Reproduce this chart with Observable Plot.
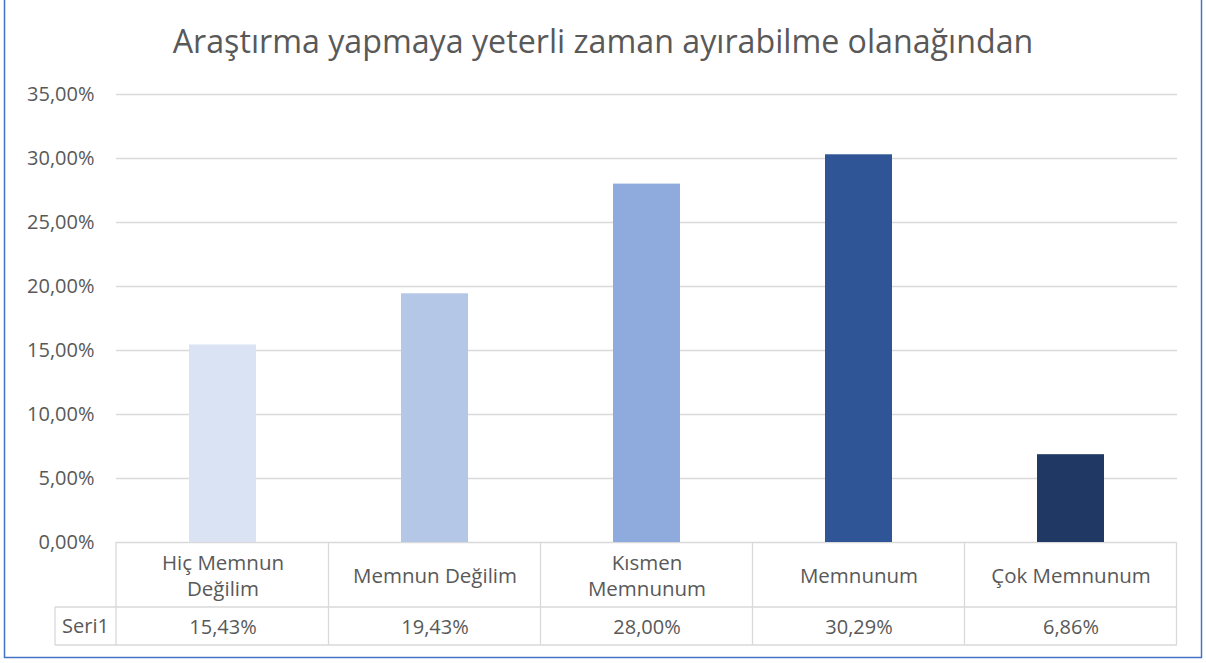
<!DOCTYPE html>
<html><head><meta charset="utf-8">
<script src="https://cdn.jsdelivr.net/npm/d3@7"></script>
<script src="https://cdn.jsdelivr.net/npm/@observablehq/plot@0.6"></script>
<style>body{margin:0;background:#fff;} svg{display:block;}</style>
</head><body><div id="chart"></div>
<script>
const title = "Araştırma yapmaya yeterli zaman ayırabilme olanağından";
const categories = ["Hiç Memnun Değilim", "Memnun Değilim", "Kısmen Memnunum", "Memnunum", "Çok Memnunum"];
const headerLabels = ["Hiç Memnun\nDeğilim", "Memnun Değilim", "Kısmen\nMemnunum", "Memnunum", "Çok Memnunum"];
const values = [15.43, 19.43, 28.00, 30.29, 6.86];
const colors = ["#DAE3F3", "#B4C7E7", "#8FAADC", "#2F5597", "#1F3864"];
const seriesName = "Seri1";
const yTicks = [0, 5, 10, 15, 20, 25, 30, 35];

const data = categories.map((c, i) => ({cat: c, header: headerLabels[i], value: values[i], color: colors[i]}));
const fmt = v => v.toFixed(2).replace(".", ",") + "%";
const font = "Open Sans, sans-serif";
const textColor = "#595959";

const W = 1206, H = 663;
const mL = 116, mR = 29, mT = 94, mB = 121;
const pad = 0.684;

const plot = Plot.plot({
  width: W, height: H,
  marginLeft: mL, marginRight: mR, marginTop: mT, marginBottom: mB,
  style: {fontFamily: font, fontSize: "20px", color: textColor, background: "#fff", overflow: "visible"},
  x: {domain: categories, paddingInner: pad, paddingOuter: pad / 2, axis: null},
  y: {domain: [0, 35], ticks: yTicks, tickFormat: fmt, label: null},
  marks: [
    Plot.gridY(yTicks, {stroke: "#D9D9D9", strokeOpacity: 1, strokeWidth: 1.3}),
    Plot.axisY(yTicks, {tickFormat: fmt, tickSize: 0, tickPadding: 22, fontSize: 20, fill: textColor, label: null}),
    Plot.barY(data, {x: "cat", y: "value", fill: "color"}),
    Plot.text(data, {x: "cat", y: () => 0, text: "header", dy: 32, fontSize: 20.5, fill: textColor, lineHeight: 1.3}),
    Plot.text(data, {x: "cat", y: () => 0, text: d => fmt(d.value), dy: 85, fontSize: 20, fill: textColor})
  ]
});

const svg = d3.select(plot);
svg.selectAll('g[aria-label="y-axis tick label"]').attr("font-size", 20).style("font-size", "20px")
  .attr("font-variant", "normal").style("font-variant", "normal");
const xs = plot.scale("x");
const step = xs.step, bw = xs.bandwidth;
const y0 = mT + (H - mT - mB);
const rowSplit = y0 + 65, rowBottom = y0 + 103;
const left = mL - 61;
const right = W - mR;
const g = svg.append("g").attr("stroke", "#D9D9D9").attr("stroke-width", 1.3).attr("fill", "none");
const bounds = [mL, ...categories.map(c => xs.apply(c) + bw + (step - bw) / 2)];
bounds.forEach(b => g.append("line").attr("x1", b).attr("x2", b).attr("y1", y0).attr("y2", rowBottom));
g.append("line").attr("x1", left).attr("x2", right).attr("y1", rowSplit).attr("y2", rowSplit);
g.append("line").attr("x1", left).attr("x2", right).attr("y1", rowBottom).attr("y2", rowBottom);
g.append("line").attr("x1", left).attr("x2", left).attr("y1", rowSplit).attr("y2", rowBottom);
svg.append("text").attr("x", (left + mL) / 2).attr("y", (rowSplit + rowBottom) / 2).attr("dy", "0.35em")
  .attr("text-anchor", "middle").attr("font-size", 20).attr("fill", textColor).attr("font-family", font).text(seriesName);
svg.append("text").attr("x", 603).attr("y", 53).attr("text-anchor", "middle")
  .attr("font-size", 32.2).attr("fill", textColor).attr("font-family", font).text(title);
svg.append("rect").attr("x", 4.5).attr("y", -2).attr("width", 1197).attr("height", 659.5)
  .attr("fill", "none").attr("stroke", "#4472C4").attr("stroke-width", 1.5);

document.getElementById("chart").append(plot);
</script></body></html>
